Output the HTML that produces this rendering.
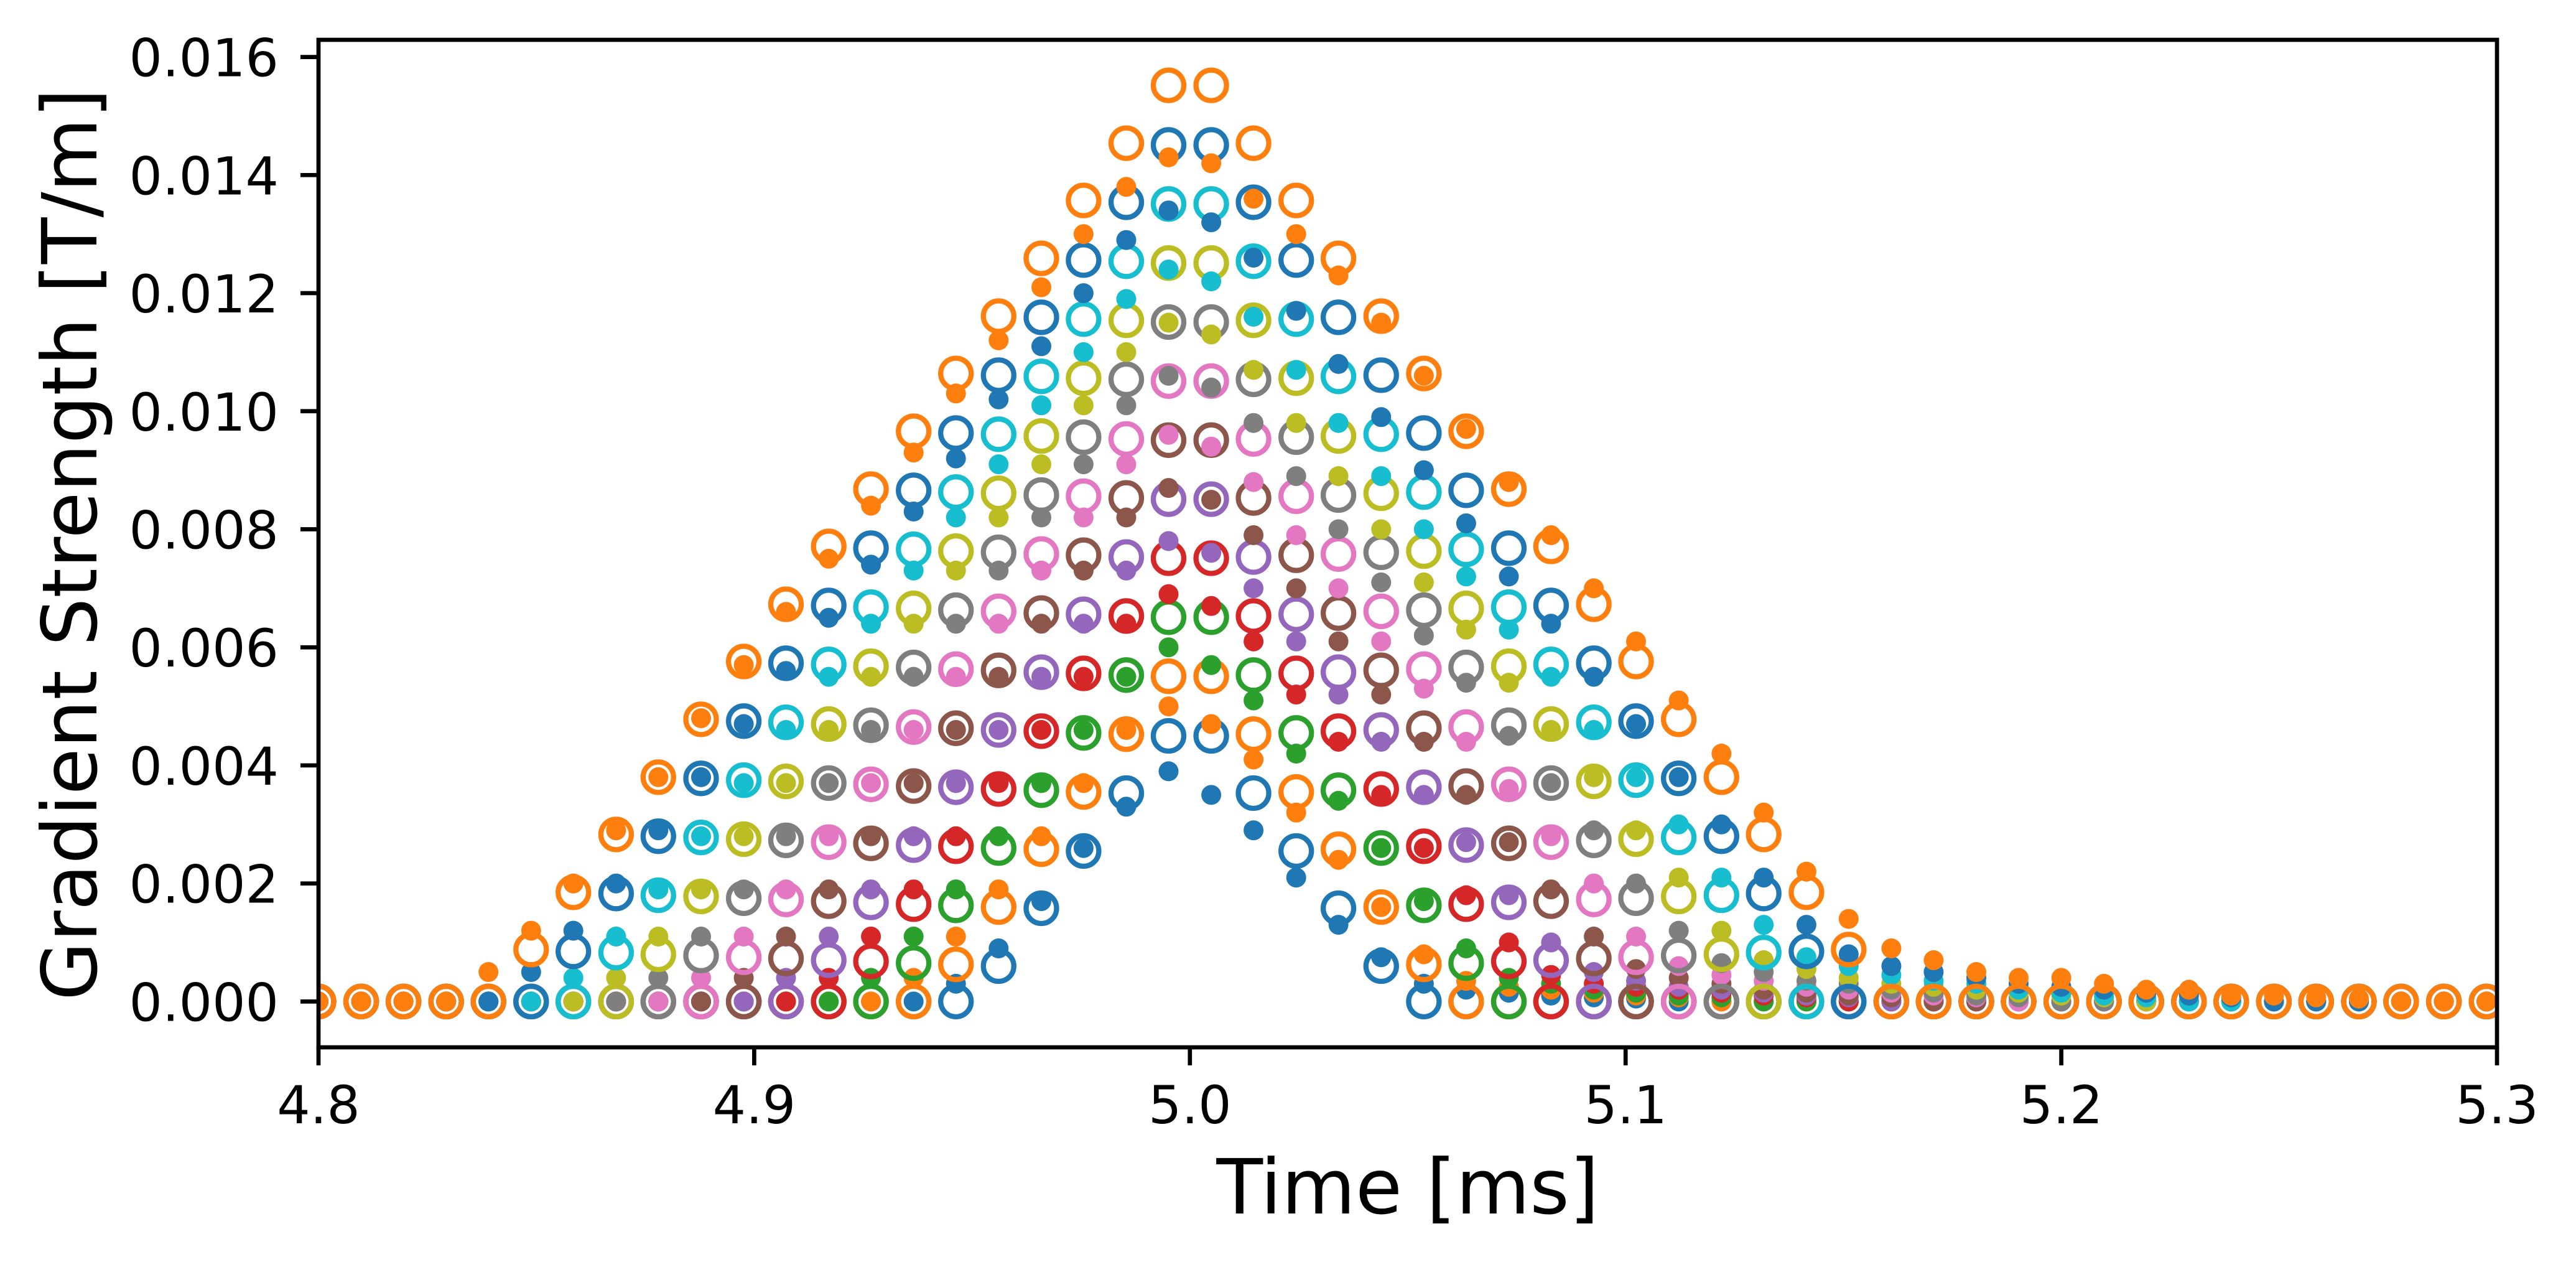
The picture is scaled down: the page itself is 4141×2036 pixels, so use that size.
<!DOCTYPE html>
<html><head><meta charset="utf-8"><title>Gradient Strength vs Time</title>
<style>html,body{margin:0;padding:0;background:#fff;}svg{display:block;}</style></head>
<body>
<svg id="chart" xmlns="http://www.w3.org/2000/svg" width="4141" height="2036" viewBox="0 0 4141 2036">
<rect x="0" y="0" width="4141" height="2036" fill="#fff"/>
<defs><clipPath id="plotclip"><rect x="512" y="64" width="3502" height="1619"/></clipPath></defs>
<g id="marks" clip-path="url(#plotclip)"></g>
<g id="axes"></g>
<text x="2263" y="1950" font-family="DejaVu Sans, Liberation Sans, sans-serif" font-size="122" text-anchor="middle">Time [ms]</text>
<text transform="translate(155,875) rotate(-90)" font-family="DejaVu Sans, Liberation Sans, sans-serif" font-size="122" text-anchor="middle">Gradient Strength [T/m]</text>
</svg>
<script>
// time grid (ms)
const times = [4.8000,4.8098,4.8195,4.8293,4.8390,4.8488,4.8585,4.8683,4.8780,4.8878,4.8976,4.9073,4.9171,4.9268,4.9366,4.9463,4.9561,4.9659,4.9756,4.9854,4.9951,5.0049,5.0146,5.0244,5.0341,5.0439,5.0537,5.0634,5.0732,5.0829,5.0927,5.1024,5.1122,5.1220,5.1317,5.1415,5.1512,5.1610,5.1707,5.1805,5.1902,5.2000,5.2098,5.2195,5.2293,5.2390,5.2488,5.2585,5.2683,5.2780,5.2878,5.2976];
// values in units of 1e-4 T/m; zero outside the listed segment
const valueUnit = 1e-4;
const circleStart = [16,15,14,13,12,11,10,9,8,7,6,5];
const circleValues = [
 [6.0,15.8,25.5,35.3,45.0,45.0,35.3,25.5,15.8,6.0],
 [6.3,16.0,25.8,35.5,45.3,55.1,55.1,45.3,35.5,25.8,16.0,6.3],
 [6.5,16.3,26.0,35.8,45.5,55.3,65.1,65.1,55.3,45.5,35.8,26.0,16.3,6.5],
 [6.8,16.5,26.3,36.0,45.8,55.6,65.3,75.1,75.1,65.3,55.6,45.8,36.0,26.3,16.5,6.8],
 [7.0,16.8,26.5,36.3,46.0,55.8,65.6,75.3,85.1,85.1,75.3,65.6,55.8,46.0,36.3,26.5,16.8,7.0],
 [7.3,17.0,26.8,36.5,46.3,56.1,65.8,75.6,85.3,95.1,95.1,85.3,75.6,65.8,56.1,46.3,36.5,26.8,17.0,7.3],
 [7.5,17.3,27.0,36.8,46.5,56.3,66.1,75.8,85.6,95.3,105.1,105.1,95.3,85.6,75.8,66.1,56.3,46.5,36.8,27.0,17.3,7.5],
 [7.8,17.5,27.3,37.0,46.8,56.6,66.3,76.1,85.8,95.6,105.4,115.1,115.1,105.4,95.6,85.8,76.1,66.3,56.6,46.8,37.0,27.3,17.5,7.8],
 [8.0,17.8,27.5,37.3,47.0,56.8,66.6,76.3,86.1,95.8,105.6,115.4,125.1,125.1,115.4,105.6,95.8,86.1,76.3,66.6,56.8,47.0,37.3,27.5,17.8,8.0],
 [8.3,18.0,27.8,37.5,47.3,57.1,66.8,76.6,86.3,96.1,105.9,115.6,125.4,135.1,135.1,125.4,115.6,105.9,96.1,86.3,76.6,66.8,57.1,47.3,37.5,27.8,18.0,8.3],
 [8.5,18.3,28.0,37.8,47.5,57.3,67.1,76.8,86.6,96.3,106.1,115.9,125.6,135.4,145.1,145.1,135.4,125.6,115.9,106.1,96.3,86.6,76.8,67.1,57.3,47.5,37.8,28.0,18.3,8.5],
 [8.8,18.5,28.3,38.0,47.8,57.6,67.3,77.1,86.8,96.6,106.4,116.1,125.9,135.7,145.4,155.2,155.2,145.4,135.7,125.9,116.1,106.4,96.6,86.8,77.1,67.3,57.6,47.8,38.0,28.3,18.5,8.8]
];
const filledStart = [15,14,13,12,11,10,9,8,7,6,5,4];
const filledValues = [
 [3,9,17,26,33,39,35,29,21,13,7.5,3,2,1.5,1,0.7,0.5],
 [4,11,19,28,37,46,50,47,41,32,24,16,8,3.5,2.5,2,1.5,1,0.7],
 [4,11,19,28,37,46,55,60,57,51,42,34,26,17,9,4,3,2,1.5,1,0.7],
 [4,11,19,28,37,46,55,64,69,67,61,52,44,35,26,18,10,4.5,3,2.5,2,1.5,1,0.7],
 [4,11,19,28,37,46,55,64,73,78,76,70,61,52,44,35,27,18,10,5,3.5,2.5,2,1.5,1,0.7],
 [4,11,19,28,37,46,55,64,73,82,87,85,79,70,61,52,44,35,27,19,11,5.5,4,3,2,1.5,1,0.7],
 [4,11,19,28,37,46,55,64,73,82,91,96,94,88,79,70,61,53,44,36,28,20,11,6,4.5,3.5,2.5,2,1.5,1,0.7],
 [4,11,19,28,37,46,55,64,73,82,91,101,106,104,98,89,80,71,62,54,45,37,29,20,12,6.5,5,3.5,3,2,1.5,1,0.7],
 [4,11,19,28,37,46,55,64,73,82,91,101,110,115,113,107,98,89,80,71,63,54,46,38,29,21,12,7,5.5,4,3,2.5,2,1.5,1,0.7],
 [4,11,19,28,37,46,55,64,73,82,91,101,110,119,124,122,116,107,98,89,80,72,63,55,46,38,30,21,13,7.5,6,4.5,3.5,3,2,1.5,1,0.7],
 [5,12,20,29,38,47,56,65,74,83,92,102,111,120,129,134,132,126,117,108,99,90,81,72,64,55,47,38,30,21,13,8,6,5,4,3,2.5,2,1.5,1,0.7],
 [5,12,20,29,38,48,57,66,75,84,93,103,112,121,130,138,143,142,136,130,123,115,106,97,88,79,70,61,51,42,32,22,14,9,7,5,4,4,3,2,2,1,1,0.7,0.5]
];
const xTicks = [4.8,4.9,5.0,5.1,5.2,5.3];
const xTickLabels = ["4.8","4.9","5.0","5.1","5.2","5.3"];
const yTicks = [0,0.002,0.004,0.006,0.008,0.010,0.012,0.014,0.016];
const yTickLabels = ["0.000","0.002","0.004","0.006","0.008","0.010","0.012","0.014","0.016"];

const palette = ['#1f77b4','#ff7f0e','#2ca02c','#d62728','#9467bd','#8c564b','#e377c2','#7f7f7f','#bcbd22','#17becf'];
const X0=512, X1=4014, Y0=1683, Y1=64;
const xMin=4.8, xMax=5.3, yMin=-0.000776, yMax=0.016291;
function xScale(v){return X0+(v-xMin)/(xMax-xMin)*(X1-X0);}
function yScale(v){return Y0-(v-yMin)/(yMax-yMin)*(Y0-Y1);}
const NS='http://www.w3.org/2000/svg';
function seriesAt(start, vals, k){const i=k-start;return (i>=0&&i<vals.length)?vals[i]*valueUnit:0;}

const marks=document.getElementById('marks');
for(let n=0;n<circleValues.length;n++){
  const col=palette[n%10];
  const gc=document.createElementNS(NS,'g');
  
  
  for(let k=0;k<times.length;k++){
    const c=document.createElementNS(NS,'circle');
    
    
    c.setAttribute('cx',xScale(times[k]).toFixed(1));
    c.setAttribute('cy',yScale(seriesAt(circleStart[n],circleValues[n],k)).toFixed(1));
    c.setAttribute('r','24.5');
    c.setAttribute('fill','none');
    c.setAttribute('stroke',col);
    c.setAttribute('stroke-width','8.3');
    gc.appendChild(c);
  }
  marks.appendChild(gc);
  const gf=document.createElementNS(NS,'g');
  
  
  for(let k=0;k<times.length;k++){
    const c=document.createElementNS(NS,'circle');
    
    
    c.setAttribute('cx',xScale(times[k]).toFixed(1));
    c.setAttribute('cy',yScale(seriesAt(filledStart[n],filledValues[n],k)).toFixed(1));
    c.setAttribute('r','16');
    c.setAttribute('fill',col);
    gf.appendChild(c);
  }
  marks.appendChild(gf);
}

const axes=document.getElementById('axes');
const frame=document.createElementNS(NS,'rect');


frame.setAttribute('x',X0);frame.setAttribute('y',Y1);
frame.setAttribute('width',X1-X0);frame.setAttribute('height',Y0-Y1);
frame.setAttribute('fill','none');frame.setAttribute('stroke','#000');frame.setAttribute('stroke-width','6.7');
axes.appendChild(frame);
const font='DejaVu Sans, Liberation Sans, sans-serif';
for(let i=0;i<xTicks.length;i++){
  const x=xScale(xTicks[i]);
  const l=document.createElementNS(NS,'line');
  
  
  l.setAttribute('x1',x);l.setAttribute('x2',x);l.setAttribute('y1',Y0);l.setAttribute('y2',Y0+29);
  l.setAttribute('stroke','#000');l.setAttribute('stroke-width','6.7');
  axes.appendChild(l);
  const t=document.createElementNS(NS,'text');
  
  
  t.setAttribute('x',x);t.setAttribute('y',1805);
  t.setAttribute('font-family',font);t.setAttribute('font-size','84');t.setAttribute('text-anchor','middle');
  t.textContent=xTickLabels[i];
  axes.appendChild(t);
}
for(let i=0;i<yTicks.length;i++){
  const y=yScale(yTicks[i]);
  const l=document.createElementNS(NS,'line');
  
  
  l.setAttribute('x1',X0-29);l.setAttribute('x2',X0);l.setAttribute('y1',y);l.setAttribute('y2',y);
  l.setAttribute('stroke','#000');l.setAttribute('stroke-width','6.7');
  axes.appendChild(l);
  const t=document.createElementNS(NS,'text');
  
  
  t.setAttribute('x',448);t.setAttribute('y',y+31);
  t.setAttribute('font-family',font);t.setAttribute('font-size','84');t.setAttribute('text-anchor','end');
  t.textContent=yTickLabels[i];
  axes.appendChild(t);
}
</script>
</body></html>
